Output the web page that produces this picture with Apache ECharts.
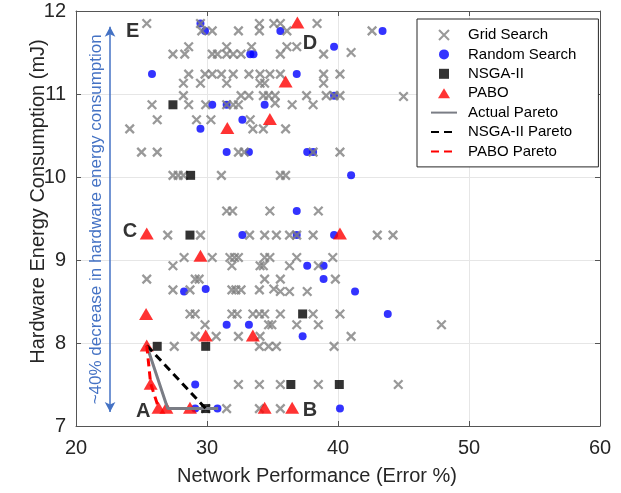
<!DOCTYPE html>
<html>
<head>
<meta charset="utf-8">
<script src="https://cdn.jsdelivr.net/npm/echarts@6/dist/echarts.min.js"></script>
<style>html,body{margin:0;padding:0;background:#fff;}#c{width:621px;height:493px;}</style>
</head>
<body>
<div id="c"></div>
<script>
// ---- data (x = Network Performance (Error %), y = Hardware Energy Consumption (mJ)) ----
const gridSearch = [
  [25.4,11.85],[29.5,11.85],[34.0,11.85],[35.1,11.85],[35.6,11.85],[38.4,11.85],
  [29.6,11.76],[30.4,11.76],[32.4,11.76],[34.0,11.76],[36.1,11.76],[42.6,11.76],
  [28.6,11.57],[31.5,11.57],[33.4,11.57],[36.1,11.57],[36.85,11.57],
  [27.4,11.48],[28.3,11.48],[30.4,11.48],[30.8,11.48],[31.5,11.48],[32.0,11.48],[32.6,11.48],[35.6,11.48],[38.9,11.48],[41.0,11.5],
  [28.6,11.24],[29.85,11.24],[30.4,11.24],[31.1,11.24],[32.0,11.24],[33.2,11.24],[34.05,11.24],[34.8,11.24],[35.6,11.24],[38.9,11.24],[40.15,11.24],
  [28.2,11.13],[29.5,11.13],[31.5,11.13],[34.05,11.13],[34.4,11.13],[38.9,11.13],
  [28.2,10.98],[32.6,10.98],[33.2,10.98],[34.3,10.98],[34.7,10.98],[35.2,10.98],[37.6,10.98],[39.1,10.98],[39.7,10.98],[40.15,10.98],[45.0,10.97],
  [25.8,10.87],[28.6,10.87],[29.9,10.87],[31.5,10.87],[32.0,10.87],[32.4,10.87],[35.2,10.89],[36.5,10.87],[38.1,10.87],
  [26.2,10.69],[29.2,10.69],[30.3,10.69],[33.3,10.69],
  [24.1,10.58],[33.5,10.58],[34.3,10.58],[36.0,10.58],
  [25.0,10.30],[26.2,10.30],[32.4,10.30],[32.85,10.30],[38.1,10.30],[40.15,10.30],
  [27.4,10.02],[27.8,10.02],[28.2,10.02],[31.1,10.02],[35.6,10.02],[36.0,10.02],
  [31.5,9.59],[31.95,9.59],[34.8,9.59],[38.5,9.59],
  [27.0,9.30],[29.5,9.30],[33.25,9.30],[34.4,9.30],[35.3,9.30],[36.3,9.30],[36.85,9.30],[38.1,9.30],[43.0,9.30],[44.2,9.30],
  [28.25,9.03],[30.4,9.03],[31.75,9.03],[32.1,9.03],[32.4,9.03],[34.4,9.03],[34.8,9.03],[36.85,9.03],[39.6,9.03],
  [27.4,8.93],[31.9,8.93],[34.05,8.93],[34.3,8.93],[36.3,8.93],[38.5,8.93],
  [25.4,8.77],[29.1,8.77],[29.4,8.77],[34.4,8.77],[35.6,8.77],[39.8,8.77],
  [27.4,8.64],[28.7,8.64],[31.9,8.64],[32.2,8.64],[32.6,8.64],[34.0,8.64],[35.1,8.65],[35.6,8.62],[36.3,8.62],[37.65,8.62],
  [28.7,8.35],[29.1,8.35],[31.9,8.35],[32.3,8.35],[33.5,8.35],[34.0,8.35],[34.4,8.35],[35.6,8.35],[38.1,8.35],[40.15,8.35],
  [29.85,8.22],[34.7,8.22],[34.95,8.22],[36.85,8.22],[38.5,8.22],[47.9,8.22],
  [29.1,8.08],[30.7,8.08],[32.4,8.08],[34.05,8.08],[41.0,8.08],
  [27.5,7.96],[34.0,7.96],[34.7,7.96],[35.3,7.96],[39.7,7.96],
  [32.4,7.50],[34.0,7.50],[35.6,7.50],[38.5,7.50],[44.6,7.50],
  [29.9,7.21],[31.5,7.21],[34.0,7.21],[35.6,7.21]
];
const randomSearch = [
  [29.5,11.85],[29.85,11.76],[35.6,11.76],[43.4,11.76],[39.7,11.57],[33.3,11.48],[33.55,11.48],
  [25.8,11.24],[36.85,11.24],[30.4,10.87],[31.5,10.87],[34.4,10.87],[39.7,10.98],[32.7,10.69],
  [29.5,10.58],[31.5,10.30],[33.2,10.30],[37.65,10.30],[38.1,10.30],[41.0,10.02],[36.85,9.59],
  [32.7,9.30],[36.85,9.30],[39.7,9.30],[37.65,8.93],[38.9,8.93],[38.9,8.77],[28.25,8.62],
  [29.9,8.65],[41.3,8.62],[43.8,8.35],[31.5,8.22],[33.2,8.22],[37.3,8.08],[29.1,7.50],
  [29.1,7.21],[30.8,7.21],[40.15,7.21]
];
const nsga2 = [
  [27.4,10.87],[28.75,10.02],[28.7,9.30],[37.3,8.35],[26.2,7.96],[29.9,7.96],[36.4,7.50],[40.1,7.50],[29.9,7.21]
];
const pabo = [
  [36.9,11.86],[36.0,11.15],[34.8,10.70],[31.55,10.59],[25.4,9.32],[40.15,9.32],[29.5,9.05],
  [25.35,8.35],[29.9,8.09],[33.5,8.09],[25.4,7.97],[25.7,7.51],[26.3,7.22],[26.9,7.22],
  [28.7,7.22],[34.4,7.22],[36.5,7.22]
];
const actualPareto = [[25.4,7.97],[27.0,7.21],[30.85,7.21]];
const nsgaPareto = [[25.4,7.97],[29.9,7.21]];
const paboPareto = [[25.4,7.97],[25.7,7.51],[26.3,7.22]];
const pointLabels = [['A',25.14,7.17],['B',37.86,7.19],['C',24.12,9.34],['D',37.86,11.61],['E',24.33,11.75]];
const arrowSpan = [[22.6,7.17],[22.6,11.81]];
const arrowText = '~40% decrease in hardware energy consumption';
const xTicks = {min:20, max:60, step:10};
const yTicks = {min:7, max:12, step:1};

// ---- chart ----
const FONT = '"Liberation Sans", Arial, Helvetica, sans-serif';
const AX = '#555555', TXT = '#262626';
const chart = echarts.init(document.getElementById('c'), null, {renderer:'canvas'});
const crossPath = 'path://M0,0L10,10M10,0L0,10';
const squarePath = 'path://M0,0L10,0L10,10L0,10Z';
const trianglePath = 'path://M6,0L12,10L0,10Z';

function boxAxis(t, pos, showName, name, nameGap, namePad) {
  return {
    type:'value', position:pos, min:t.min, max:t.max, interval:t.step,
    name: showName ? name : '', nameLocation:'middle', nameGap:nameGap, nameMoveOverlap:false,
    nameTextStyle:{fontSize:20, color:TXT, fontFamily:FONT, padding:namePad || 0},
    axisLine:{show:true, onZero:false, lineStyle:{color:AX, width:1}},
    axisTick:{show:true, inside:true, length:5, lineStyle:{color:AX}},
    axisLabel:{show:showName, fontSize:20, color:TXT, fontFamily:FONT, margin: pos==='bottom' ? 12 : 10},
    splitLine:{show:showName, lineStyle:{color:'#e6e6e6', width:1}}
  };
}

const hideSym = {opacity:0};
chart.setOption({
  animation:false,
  backgroundColor:'#fff',
  grid:{left:76, right:21, top:11, bottom:67, containLabel:false},
  xAxis:[boxAxis(xTicks,'bottom',true,'Network Performance (Error %)',40,[0,42,0,0]), boxAxis(xTicks,'top',false,'',0)],
  yAxis:[boxAxis(yTicks,'left',true,'Hardware Energy Consumption (mJ)',28,[0,0,0,34]), boxAxis(yTicks,'right',false,'',0)],
  legend:{
    orient:'vertical', left:417, top:19, padding:[8.5,22,8,13],
    itemWidth:26, itemHeight:10, itemGap:4.4, symbolKeepAspect:true,
    borderColor:'#262626', borderWidth:1, backgroundColor:'#fff',
    textStyle:{fontSize:15, color:'#000', fontFamily:FONT, padding:[0,0,0,6]},
    selectedMode:false,
    data:[
      {name:'Grid Search'},
      {name:'Random Search'},
      {name:'NSGA-II', icon:squarePath},
      {name:'PABO', icon:trianglePath},
      {name:'Actual Pareto', itemStyle:hideSym},
      {name:'NSGA-II Pareto', itemStyle:hideSym},
      {name:'PABO Pareto', itemStyle:hideSym}
    ]
  },
  series:[
    {name:'Random Search', type:'scatter', data:randomSearch, symbol:'circle', symbolSize:8,
     itemStyle:{color:'#0000ff'}, z:2},
    {name:'Grid Search', type:'scatter', data:gridSearch, symbol:crossPath, symbolSize:8.5, symbolKeepAspect:true,
     itemStyle:{color:'rgba(0,0,0,0)', borderColor:'#808080', borderWidth:2.3}, z:3},
    {name:'NSGA-II', type:'scatter', data:nsga2, symbol:'rect', symbolSize:9,
     itemStyle:{color:'#000000'}, z:4},
    {name:'PABO', type:'scatter', data:pabo, symbol:'triangle', symbolSize:[14,12],
     itemStyle:{color:'#ff0000'}, z:5},
    {name:'Actual Pareto', type:'line', data:actualPareto, symbol:'none', z:6,
     lineStyle:{color:'#7a7d85', width:3, type:'solid'}, itemStyle:{color:'#7a7d85'}},
    {name:'NSGA-II Pareto', type:'line', data:nsgaPareto, symbol:'none', z:7,
     lineStyle:{color:'#000000', width:3, type:[8,5]}, itemStyle:{color:'#000000'}},
    {name:'PABO Pareto', type:'line', data:paboPareto, symbol:'none', z:7,
     lineStyle:{color:'#ff0000', width:3, type:[8,5]}, itemStyle:{color:'#ff0000'}},
    {name:'annotations', type:'scatter', symbolSize:0, silent:true, z:8,
     data:pointLabels.map(p => ({name:p[0], value:[p[1],p[2]]})),
     label:{show:true, position:'inside', formatter:'{b}', fontSize:20, fontWeight:'bold', color:'#000', fontFamily:FONT},
     markLine:{silent:true, symbol:['arrow','arrow'], symbolSize:[8,10],
       lineStyle:{color:'#4472c4', width:1.5, type:'solid'},
       label:{show:true, formatter:arrowText, position:'insideMiddleTop', distance:5,
              color:'#4472c4', fontSize:17, fontFamily:FONT},
       data:[[{coord:arrowSpan[0]},{coord:arrowSpan[1]}]]}
    }
  ]
});
</script>
</body>
</html>
